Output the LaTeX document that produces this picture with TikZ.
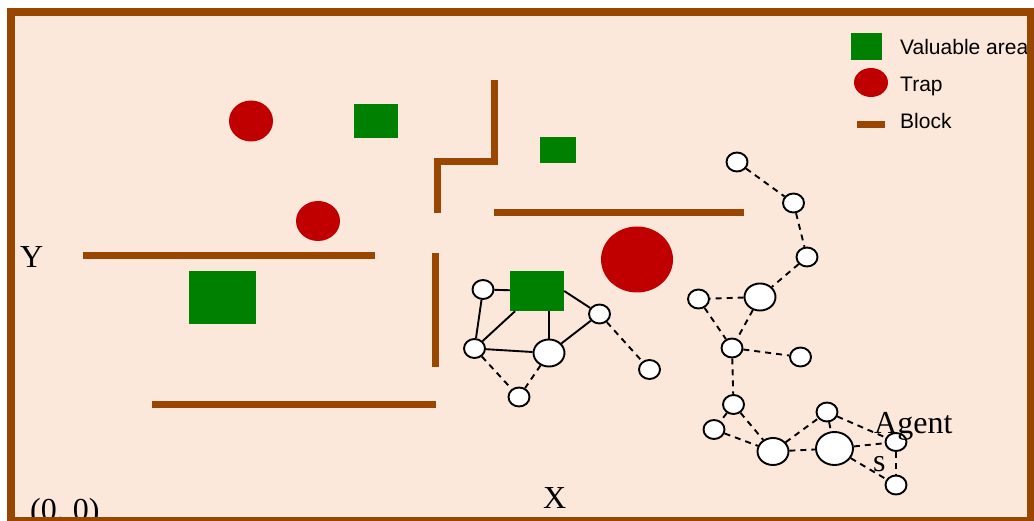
\documentclass[tikz,border=0pt]{standalone}
\usepackage{fontspec}
\setmainfont{Liberation Serif}
\setsansfont{Liberation Sans}
\usetikzlibrary{shapes.geometric}
\definecolor{peach}{RGB}{252,232,218}
\definecolor{blockbrown}{RGB}{153,71,0}
\definecolor{trapred}{RGB}{192,0,0}
\definecolor{areagreen}{RGB}{0,128,0}

\begin{document}
\begin{tikzpicture}[x=1pt,y=-1pt]
\tikzset{state/.style = {shape=ellipse,draw,fill=white,line width=1.9pt,inner sep=0pt,minimum width=21pt,minimum height=19pt}}
\tikzset{bigstate/.style = {state,minimum width=31pt,minimum height=27pt}}
\tikzset{edge/.style = {-,line width=1.9pt}}
\tikzset{link/.style = {edge,dash pattern=on 6pt off 5pt}}
\tikzset{trap/.style = {shape=ellipse,fill=trapred,inner sep=0pt}}
\tikzset{valuable/.style = {shape=rectangle,fill=areagreen,inner sep=0pt}}
\tikzset{block/.style = {draw=blockbrown,line width=7pt}}
\tikzset{axistext/.style = {anchor=base west,inner sep=0pt,font=\fontsize{32}{36}\selectfont}}
\tikzset{legendtext/.style = {anchor=base west,inner sep=0pt,font=\sffamily\fontsize{21}{25}\selectfont}}
\useasboundingbox (0,0) rectangle (1034,521);
\fill[peach] (11,12) rectangle (1030.5,521);
% traps
\node[trap,minimum width=44pt,minimum height=41pt] (t1) at (251,121) {};
\node[trap,minimum width=44pt,minimum height=40pt] (t2) at (318,221) {};
\node[trap,minimum width=72pt,minimum height=66pt] (t3) at (637,259.5) {};
% valuable areas
\node[valuable,minimum width=44pt,minimum height=34pt] (v1) at (376,121) {};
\node[valuable,minimum width=36pt,minimum height=26pt] (v2) at (558,150) {};
\node[valuable,minimum width=67pt,minimum height=53pt] (v3) at (222.5,297.5) {};
\node[valuable,minimum width=54pt,minimum height=40pt] (v4) at (537,291) {};
% blocks
\draw[block] (494,80) -- (494,162) -- (437,162) -- (437,213);
\draw[block] (494,213) -- (744,213);
\draw[block] (83,255.5) -- (375,255.5);
\draw[block] (435.5,253) -- (435.5,367);
\draw[block] (152,404.5) -- (436,404.5);
% vertices
\node[state] (a1) at (483,289.5) {};
\node[state] (a2) at (474.5,348.5) {};
\node[bigstate] (a3) at (549,353) {};
\node[state] (a4) at (599.5,314) {};
\node[state] (a5) at (519,397) {};
\node[state] (a6) at (649.5,369.5) {};
\node[state] (b1) at (737,162) {};
\node[state] (b2) at (793.5,203) {};
\node[state] (b3) at (807,257) {};
\node[bigstate] (b4) at (760,297) {};
\node[state] (b5) at (698.5,299) {};
\node[state] (b6) at (732,348) {};
\node[state] (b7) at (800.5,357) {};
\node[state] (c1) at (733.5,404.5) {};
\node[state] (c2) at (714,429.5) {};
\node[bigstate] (c3) at (773,451.5) {};
\node[state] (c4) at (827,412) {};
\node[bigstate,minimum width=37pt,minimum height=33pt] (c5) at (834.5,448.5) {};
\node[state,minimum height=18pt] (c6) at (896,442) {};
\node[state] (c7) at (896,485) {};
%edges
\draw[edge] (a1) -- (v4);
\draw[edge] (a1) -- (a2);
\draw[edge] (a2) -- (v4);
\draw[edge] (a2) -- (a3);
\draw[edge] (a3) -- (a3 |- v4.south);
\draw[edge] (a3) -- (a4);
\draw[edge] (v4.east) -- (a4);
\draw[link] (a2) -- (a5);
\draw[link] (a3) -- (a5);
\draw[link] (a4) -- (a6);
\draw[link] (b1) -- (b2);
\draw[link] (b2) -- (b3);
\draw[link] (b3) -- (b4);
\draw[link] (b4) -- (b5);
\draw[link] (b4) -- (b6);
\draw[link] (b5) -- (b6);
\draw[link] (b6) -- (b7);
\draw[link] (b6) -- (c1);
\draw[link] (c1) -- (c2);
\draw[link] (c1) -- (c3);
\draw[link] (c2) -- (c3);
\draw[link] (c3) -- (c4);
\draw[link] (c3) -- (c5);
\draw[link] (c4) -- (c5);
\draw[link] (c4) -- (c6);
\draw[link] (c5) -- (c6);
\draw[link] (c5) -- (c7);
\draw[link] (c6) -- (c7);
% texts
\node[axistext] (ytext) at (20,268) {Y};
\node[axistext] (xtext) at (543,508) {X};
\node[axistext] (otext) at (30,520) {(0, 0)};
\node[axistext] (agent) at (874,433) {Agent};
\node[axistext] (stext) at (873,471) {s};
% legend
\node[valuable,minimum width=31pt,minimum height=27pt] (lv) at (866.5,46.5) {};
\node[trap,minimum width=34pt,minimum height=29pt] (lt) at (871,82.5) {};
\draw[block,line width=6.5pt] (857,124.5) -- (885,124.5);
\node[legendtext] (lvtext) at (900,55) {Valuable area};
\node[legendtext] (lttext) at (900,92) {Trap};
\node[legendtext] (lbtext) at (900,129) {Block};
% border
\draw[blockbrown,line width=8pt] (11,12) rectangle (1030.5,521);
\end{tikzpicture}
\end{document}
